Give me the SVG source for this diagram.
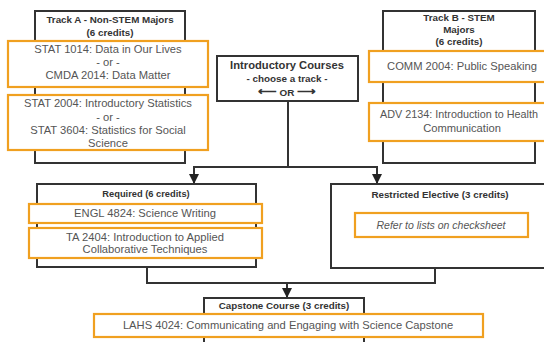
<svg xmlns="http://www.w3.org/2000/svg" width="544" height="342" viewBox="0 0 544 342">
<defs>
<marker id="arr" viewBox="0 0 10 10" refX="9" refY="5" markerWidth="5" markerHeight="5" orient="auto"><path d="M0,0 L10,5 L0,10 z" fill="#222"/></marker>
<style>
.box{fill:#fff;stroke:#333;stroke-width:2}
.crs{fill:#fff;stroke:#f0a020;stroke-width:2.2}
.ttl{font-family:"Liberation Sans",Arial,sans-serif;font-weight:bold;font-size:9.8px;fill:#333;text-anchor:middle}
.txt{font-family:"Liberation Sans",Arial,sans-serif;font-size:11.2px;fill:#555;text-anchor:middle}
.con{fill:none;stroke:#333;stroke-width:2}
</style>
</defs>
<rect width="544" height="342" fill="#fff"/>
<g id="trackA">
<rect class="box" x="35" y="11" width="150" height="152"/>
<text class="ttl" x="110" y="23">Track A - Non-STEM Majors</text>
<text class="ttl" x="110" y="36">(6 credits)</text>
</g>
<g id="stat1014">
<rect class="crs" x="8" y="41" width="200" height="46"/>
<text class="txt" x="108" y="53">STAT 1014: Data in Our Lives</text>
<text class="txt" x="108" y="66">- or -</text>
<text class="txt" x="108" y="79">CMDA 2014: Data Matter</text>
</g>
<g id="stat2004">
<rect class="crs" x="8" y="95" width="200" height="55"/>
<text class="txt" x="108" y="107">STAT 2004: Introductory Statistics</text>
<text class="txt" x="108" y="121">- or -</text>
<text class="txt" x="108" y="134">STAT 3604: Statistics for Social</text>
<text class="txt" x="108" y="147">Science</text>
</g>
<g id="intro">
<rect class="box" x="217" y="56" width="141" height="45"/>
<text class="ttl" x="287" y="69" style="font-size:11.2px">Introductory Courses</text>
<text class="ttl" x="287" y="82" style="font-size:9.9px">- choose a track -</text>
<text class="ttl" x="287" y="96" style="font-size:9.9px"><tspan style="font-size:13px">⟵</tspan>  OR  <tspan style="font-size:13px">⟶</tspan></text>
</g>
<g id="trackB">
<rect class="box" x="383" y="11" width="152" height="152"/>
<text class="ttl" x="459" y="21">Track B - STEM</text>
<text class="ttl" x="459" y="33">Majors</text>
<text class="ttl" x="459" y="45">(6 credits)</text>
</g>
<g id="comm2004">
<rect class="crs" x="369" y="51" width="195" height="31"/>
<text class="txt" x="462" y="70">COMM 2004: Public Speaking</text>
</g>
<g id="adv2134">
<rect class="crs" x="369" y="103" width="195" height="38"/>
<text class="txt" x="459" y="118" style="font-size:10.8px">ADV 2134: Introduction to Health</text>
<text class="txt" x="462" y="132">Communication</text>
</g>
<g id="connectors">
<path class="con" d="M288,101 V167"/>
<path class="con" d="M194,167 H377"/>
<path class="con" d="M194,166 V183" marker-end="url(#arr)"/>
<path class="con" d="M377,166 V183" marker-end="url(#arr)"/>
<path class="con" d="M147,267 V283 H435 V268"/>
<path class="con" d="M287,283 V297" marker-end="url(#arr)"/>
</g>
<g id="required">
<rect class="box" x="37" y="184" width="219" height="83"/>
<text class="ttl" x="146" y="197" style="font-size:9.3px">Required (6 credits)</text>
</g>
<g id="engl4824">
<rect class="crs" x="29" y="204" width="233" height="19"/>
<text class="txt" x="145" y="217">ENGL 4824: Science Writing</text>
</g>
<g id="ta2404">
<rect class="crs" x="29" y="228" width="233" height="30"/>
<text class="txt" x="145" y="241">TA 2404: Introduction to Applied</text>
<text class="txt" x="145" y="253">Collaborative Techniques</text>
</g>
<g id="elective">
<rect class="box" x="331" y="184" width="220" height="84"/>
<text class="ttl" x="440" y="198">Restricted Elective (3 credits)</text>
</g>
<g id="refer">
<rect class="crs" x="355" y="213" width="173" height="24"/>
<text class="txt" x="441" y="229" style="font-style:italic;font-size:10.5px">Refer to lists on checksheet</text>
</g>
<g id="capstone">
<rect class="box" x="204" y="298" width="160" height="60"/>
<text class="ttl" x="284" y="309">Capstone Course (3 credits)</text>
</g>
<g id="lahs4024">
<rect class="crs" x="94" y="314" width="389" height="23"/>
<text class="txt" x="288" y="329">LAHS 4024: Communicating and Engaging with Science Capstone</text>
</g>
</svg>
